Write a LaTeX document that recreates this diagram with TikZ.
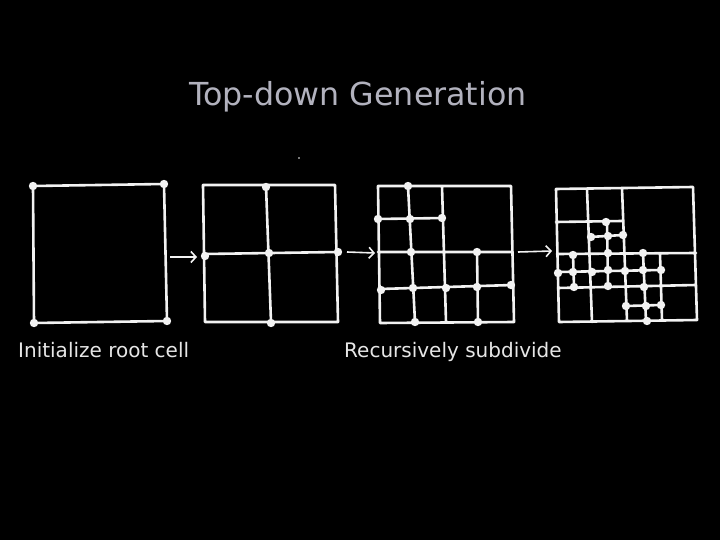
\documentclass[tikz,border=0pt]{standalone}
\usepackage{fontspec}
\setmainfont{DejaVu Sans}
\usetikzlibrary{arrows.meta}
\definecolor{chalk}{HTML}{F2F2F2}
\definecolor{titlegrey}{HTML}{B2B2BE}
\definecolor{labelgrey}{HTML}{E6E6E6}
\tikzset{
  grid/.style={draw=chalk,line width=2.6pt,line join=round,line cap=round},
  knot/.style={fill=chalk},
  push/.style={draw=chalk,line width=1.6pt,-{Straight Barb[length=5pt,width=11pt]}},
  caption/.style={text=labelgrey,font=\fontsize{20}{24}\selectfont,anchor=base west,inner sep=0pt}
}
\begin{document}
\begin{tikzpicture}[x=1pt,y=-1pt]
  %fond noir, taille de l'image
  \fill[black] (0,0) rectangle (720,540);
  \useasboundingbox (0,0) rectangle (720,540);
  %titre
  \node[text=titlegrey,font=\fontsize{31.7}{36}\selectfont,anchor=base,inner sep=0pt] (titre) at (358,106) {Top-down Generation};
  \fill[chalk] (299,158) circle (0.9);
  %cellule racine
  \coordinate (A1) at (33,186);
  \coordinate (B1) at (164,184);
  \coordinate (C1) at (167,321);
  \coordinate (D1) at (34,323);
  \draw[grid] (A1) -- (B1) -- (C1) -- (D1) -- cycle;
  \fill[knot] (A1) circle (4.2) (B1) circle (4.2) (C1) circle (4.2) (D1) circle (4.2);
  %premier niveau
  \draw[grid] (203,185) -- (335,185) -- (338,322) -- (205,322) -- cycle
              (266,186) -- (271,322)
              (205,254) -- (338,252);
  \fill[knot] (266,187) circle (4.2) (205,256) circle (4.2) (269,253) circle (4.2)
              (338,252) circle (4.2) (271,323) circle (4.2);
  %deuxieme niveau
  \draw[grid] (378,186) -- (511,186) -- (514,322) -- (380,323) -- cycle
              (442,186) -- (446,322)
              (378,252) -- (512,252)
              (408,186) -- (415,322)
              (378,219) -- (443,218)
              (380,289) -- (513,285)
              (477,252) -- (478,322);
  \fill[knot] (408,186) circle (4.2) (378,219) circle (4.2) (410,219) circle (4.2)
              (442,218) circle (4.2) (411,252) circle (4.2) (477,252) circle (4.2)
              (381,290) circle (4.2) (413,288) circle (4.2) (446,288) circle (4.2)
              (477,287) circle (4.2) (511,285) circle (4.2) (415,322) circle (4.2)
              (478,322) circle (4.2);
  %troisieme niveau
  \draw[grid] (556,189) -- (693,187) -- (697,320) -- (559,322) -- cycle
              (622,188) -- (627,321)
              (557,254) -- (696,253)
              (587,189) -- (592,322)
              (556,222) -- (622,221)
              (558,288) -- (696,285)
              (660,254) -- (662,320)
              (607,221) -- (608,287)
              (590,237) -- (623,235)
              (573,254) -- (574,287)
              (558,272) -- (661,270)
              (643,253) -- (646,321)
              (626,306) -- (661,305);
  \fill[knot] (606,222) circle (4.2) (591,237) circle (4.2) (608,236) circle (4.2)
              (623,235) circle (4.2) (608,253) circle (4.2) (573,255) circle (4.2)
              (558,273) circle (4.2) (573,272) circle (4.2) (592,272) circle (4.2)
              (608,270) circle (4.2) (625,271) circle (4.2) (643,253) circle (4.2)
              (643,270) circle (4.2) (661,270) circle (4.2) (574,287) circle (4.2)
              (608,286) circle (4.2) (644,287) circle (4.2) (626,306) circle (4.2)
              (646,306) circle (4.2) (661,305) circle (4.2) (647,321) circle (4.2);
  %fleches
  \coordinate (f1) at (170,257);
  \coordinate (g1) at (197,257);
  \coordinate (f2) at (347,252);
  \coordinate (g2) at (375,253);
  \coordinate (f3) at (518,252);
  \coordinate (g3) at (552,251);
  \draw[push] (f1) -- (g1);
  \draw[push] (f2) -- (g2);
  \draw[push] (f3) -- (g3);
  %legendes
  \node[caption] (init) at (18,357) {Initialize root cell};
  \node[caption] (recu) at (344,357) {Recursively subdivide};
\end{tikzpicture}
\end{document}
